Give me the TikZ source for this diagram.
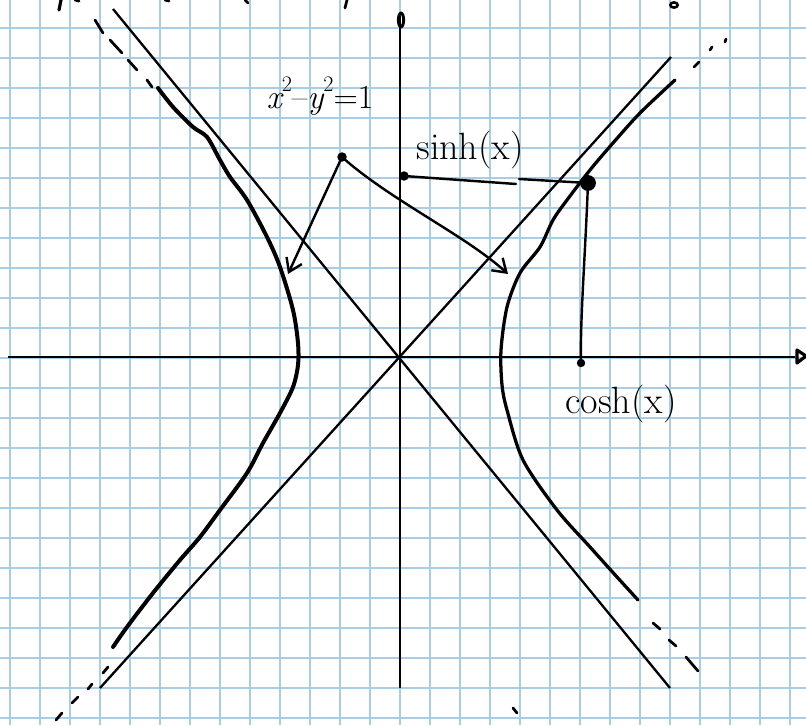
\documentclass[tikz,border=0pt]{standalone}
\usepackage{fontspec}
\usetikzlibrary{arrows.meta}
\newcommand{\supsq}{\raisebox{0.5em}{\fontsize{21}{25}\selectfont\upshape 2}}
\begin{document}
\begin{tikzpicture}[x=0.0333333cm, y=-0.0333333cm,
  gridline/.style={draw={rgb,255:red,168;green,206;blue,230}, line width=1.8pt},
  axis/.style={draw=black, line width=2.6pt},
  asym/.style={draw=black, line width=2.2pt},
  hyper/.style={draw=black, line width=3.1pt, line cap=round, line join=round},
  dashseg/.style={draw=black, line width=2.6pt, line cap=round},
  conn/.style={draw=black, line width=2.3pt, line cap=round},
  dot/.style={circle, fill=black, inner sep=0pt},
  barb/.style={-{Straight Barb[length=12pt,width=16pt,line width=2.3pt]}},
  lbl/.style={inner sep=0pt, font=\fontsize{36}{40}\selectfont}
]
\useasboundingbox (0,0) rectangle (806,725);
\fill[white] (0,0) rectangle (806,725);
% grid
\foreach \i in {10,40,...,790} \draw[gridline] (\i,0) -- (\i,725);
\foreach \j in {28,58,...,718} \draw[gridline] (0,\j) -- (806,\j);
% axes
\draw[axis] (8,357) -- (795,357);
\draw[axis] (400,688) -- (400,16);
\draw[axis, line width=3pt, line join=round] (797,350) -- (806,356) -- (797,363) -- cycle;
\draw[line width=2.8pt] (401,20) ellipse (2.5pt and 6.5pt);
% asymptotes
\draw[asym] (100,688) -- (671,57);
\draw[asym] (113,9) -- (670,688);
% hyperbola branches
\draw[hyper] plot[smooth] coordinates {(675,80) (640,113) (613,143) (590,170) (567,200) (553,220) (540,247) (520,273) (507,307) (501,350) (502,385) (507,410) (523,460) (557,510) (590,547) (617,577) (638,600)};
\draw[hyper, line width=3.8pt] plot[smooth] coordinates {(158,88) (173,107) (193,127) (207,137) (220,160) (230,177) (247,200) (267,237) (280,267) (293,310) (298,343) (298,365) (293,387) (280,413) (263,443) (247,473) (220,510) (200,537) (180,560) (153,593) (127,627) (113,647)};
% dashed extensions
\draw[dashseg] (95,20) -- (103,33);
\draw[dashseg] (110,40) -- (122,53);
\draw[dashseg] (128,60) -- (137,70);
\draw[dashseg] (147,80) -- (152,87);
\draw[dashseg] (108,667) -- (103,673);
\draw[dashseg] (92,684) -- (88,689);
\draw[dashseg] (78,697) -- (72,703);
\draw[dashseg] (62,713) -- (56,720);
\draw[dashseg] (694,67) -- (699,62);
\draw[dashseg] (710,50) -- (712,47);
\draw[dashseg] (725,42) -- (726,39);
\draw[dashseg] (653,623) -- (660,629);
\draw[dashseg] (669,640) -- (676,646);
\draw[dashseg] (686,657) -- (698,671);
% cut-off fragments
\draw[dashseg, line width=3pt] (61,0) -- (59,10);
\draw[dashseg] (75,0) -- (79,1);
\draw[dashseg] (165,0) -- (169,1);
\draw[dashseg] (245,0) -- (248,3);
\draw[dashseg] (347,0) -- (345,8);
\draw[line width=2.4pt] (674,5) ellipse (3.5pt and 2.5pt);
\draw[dashseg] (513,708) -- (517,713);
% points
\node[dot, minimum size=9pt] (lab) at (342,157) {};
\node[dot, minimum size=9pt] (sdot) at (404,176) {};
\node[dot, minimum size=15pt] (P) at (588,183) {};
\node[dot, minimum size=8pt] (cdot) at (581,363) {};
\coordinate (sj1) at (516,184);
\coordinate (sj2) at (519,179);
\coordinate (t1) at (288,274);
\coordinate (t2) at (508,274);
% connectors
\draw[conn] (sdot.center) -- (sj1);
\draw[conn] (sj2) -- (P.center);
\draw[conn] (P.center) .. controls (585,260) and (580,320) .. (cdot.center);
\draw[conn, barb] (lab.center) -- (t1);
\draw[conn, barb] (lab.center) .. controls (390,200) and (465,235) .. (t2);
% labels
\node[lbl, font=\fontsize{32}{36}\selectfont] (eq) at (320,96) {\itshape x\supsq\upshape\textendash\itshape y\supsq\upshape=1};
\node[lbl] (sinh) at (470,150) {sinh(x)};
\node[lbl] (cosh) at (621,404) {cosh(x)};
\end{tikzpicture}
\end{document}
